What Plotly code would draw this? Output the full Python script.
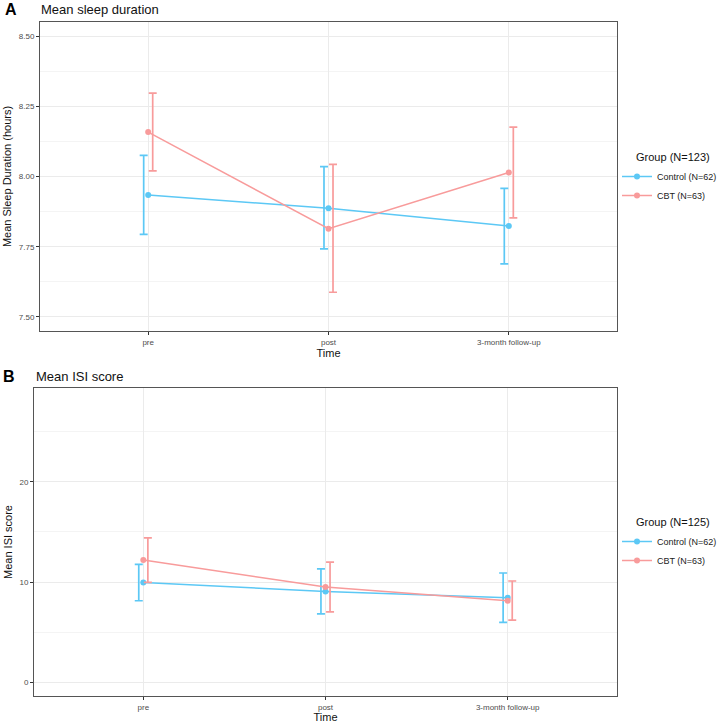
import plotly.graph_objects as go

# categories
times = ["pre", "post", "3-month follow-up"]
tpos = [0, 1, 2]

# panel A: mean sleep duration (hours)
sleep_ctrl = [7.934, 7.887, 7.824]
sleep_ctrl_lo = [7.794, 7.742, 7.689]
sleep_ctrl_hi = [8.075, 8.035, 7.958]
sleep_cbt = [8.158, 7.814, 8.014]
sleep_cbt_lo = [8.020, 7.588, 7.853]
sleep_cbt_hi = [8.297, 8.043, 8.176]

# panel B: mean ISI score
isi_ctrl = [9.96, 9.06, 8.43]
isi_ctrl_lo = [8.13, 6.82, 5.97]
isi_ctrl_hi = [11.75, 11.30, 10.90]
isi_cbt = [12.2, 9.5, 8.13]
isi_cbt_lo = [9.96, 7.02, 6.20]
isi_cbt_hi = [14.40, 11.98, 10.10]

BLUE = "rgb(92,200,245)"
RED = "rgb(248,155,155)"
FONT = "Liberation Sans, Arial, sans-serif"
dodge = 0.025

fig = go.Figure()


def add_group(name, mean, lo, hi, color, shift, xa, ya, legend):
    xs = [t + shift for t in tpos]
    fig.add_trace(go.Scatter(
        x=xs, y=mean, mode="markers", marker=dict(size=1, color="rgba(0,0,0,0)"),
        error_y=dict(type="data", symmetric=False,
                     array=[h - m for h, m in zip(hi, mean)],
                     arrayminus=[m - l for m, l in zip(mean, lo)],
                     color=color, thickness=1.7, width=4),
        showlegend=False, hoverinfo="skip", xaxis=xa, yaxis=ya))
    fig.add_trace(go.Scatter(
        x=tpos, y=mean, mode="lines+markers", name=name,
        line=dict(color=color, width=1.5), marker=dict(color=color, size=6),
        xaxis=xa, yaxis=ya, legend=legend))


add_group("Control (N=62)", sleep_ctrl, sleep_ctrl_lo, sleep_ctrl_hi, BLUE, -dodge, "x", "y", "legend")
add_group("CBT (N=63)", sleep_cbt, sleep_cbt_lo, sleep_cbt_hi, RED, dodge, "x", "y", "legend")
add_group("Control (N=62)", isi_ctrl, isi_ctrl_lo, isi_ctrl_hi, BLUE, -dodge, "x2", "y2", "legend2")
add_group("CBT (N=63)", isi_cbt, isi_cbt_lo, isi_cbt_hi, RED, dodge, "x2", "y2", "legend2")

W, H = 719, 723

xcommon = dict(range=[-0.6, 2.6], tickvals=tpos, ticktext=times, showgrid=True, automargin=False,
               gridcolor="#EBEBEB", gridwidth=1, zeroline=False, showline=True, mirror=True,
               linecolor="#555555", linewidth=1, ticks="outside", ticklen=3, tickcolor="#333333",
               tickfont=dict(size=8, color="#4D4D4D", family=FONT),
               title=dict(text="Time", font=dict(size=11, color="#111111", family=FONT), standoff=1))
ycommon = dict(showgrid=True, gridcolor="#EBEBEB", gridwidth=1, zeroline=False, showline=True,
               mirror=True, linecolor="#555555", linewidth=1, ticks="outside", ticklen=3,
               automargin=False, tickcolor="#333333",
               tickfont=dict(size=8, color="#4D4D4D", family=FONT))

legend_common = dict(xanchor="left", yanchor="top", font=dict(size=9, color="#222222", family=FONT),
                     bgcolor="rgba(0,0,0,0)", itemwidth=30, tracegroupgap=0)

fig.update_layout(
    width=W, height=H, margin=dict(l=0, r=0, t=0, b=0, autoexpand=False),
    paper_bgcolor="white", plot_bgcolor="white",
    xaxis=dict(xcommon, domain=[40 / W, 617 / W], anchor="y"),
    yaxis=dict(ycommon, domain=[1 - 331 / H, 1 - 22 / H], anchor="x",
               range=[7.45, 8.55], tickvals=[7.5, 7.75, 8.0, 8.25, 8.5],
               ticktext=["7.50", "7.75", "8.00", "8.25", "8.50"],
               minor=dict(showgrid=True, gridcolor="#F4F4F4", tickvals=[7.625, 7.875, 8.125, 8.375]),
               title=dict(text="Mean Sleep Duration (hours)",
                          font=dict(size=11, color="#111111", family=FONT), standoff=4)),
    xaxis2=dict(xcommon, domain=[34 / W, 617 / W], anchor="y2"),
    yaxis2=dict(ycommon, domain=[1 - 696 / H, 1 - 388 / H], anchor="x2",
                range=[-1.37, 29.35], tickvals=[0, 10, 20],
                minor=dict(showgrid=True, gridcolor="#F4F4F4", tickvals=[5, 15, 25]),
                title=dict(text="Mean ISI score",
                           font=dict(size=11, color="#111111", family=FONT), standoff=4)),
    legend=dict(legend_common, x=617 / W, y=1 - 162 / H),
    legend2=dict(legend_common, x=617 / W, y=1 - 527 / H),
    showlegend=True,
)

# legend titles
for ltitle, yc in [("Group (N=123)", 157), ("Group (N=125)", 522)]:
    fig.add_annotation(text=ltitle, x=634 / W, y=1 - yc / H, xref="paper", yref="paper",
                       xanchor="left", yanchor="middle", showarrow=False,
                       font=dict(size=11, color="#111111", family=FONT))

# panel tags and titles
for tag, title, xt, xl, yc in [("A", "Mean sleep duration", 3, 39, 10),
                               ("B", "Mean ISI score", 1, 34, 376)]:
    fig.add_annotation(text="<b>" + tag + "</b>", x=xt / W, y=1 - yc / H, xref="paper", yref="paper",
                       xanchor="left", yanchor="middle", showarrow=False,
                       font=dict(size=16, color="black", family=FONT))
    fig.add_annotation(text=title, x=xl / W, y=1 - yc / H, xref="paper", yref="paper",
                       xanchor="left", yanchor="middle", showarrow=False,
                       font=dict(size=13, color="#111111", family=FONT))

# the page's default body margin would push the fixed-size figure off the window
fig.write_html("out.html", config={"displayModeBar": False},
               post_script="document.body.style.margin = '0';")
